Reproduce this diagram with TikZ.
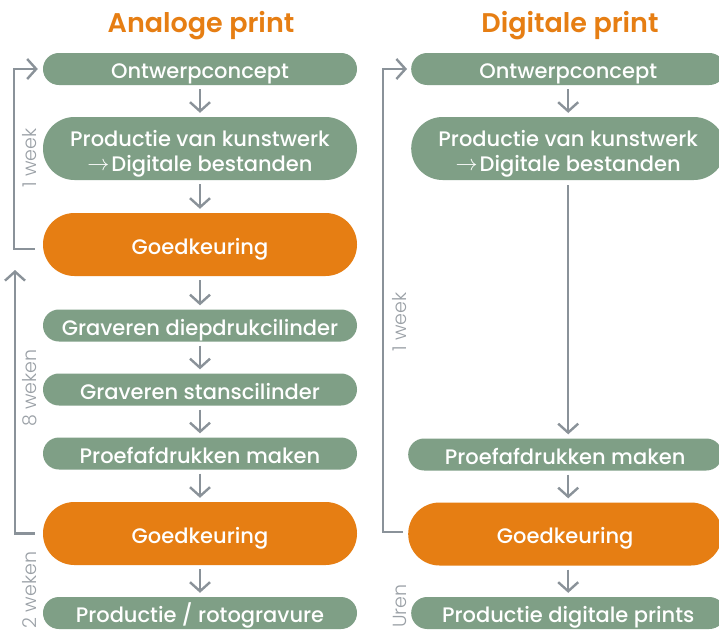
\documentclass[tikz,border=0pt]{standalone}
\usepackage{graphicx}
\usepackage{fontspec}
\setmainfont{Poppins}
\newfontfamily\medfont{Poppins Medium}
\newfontfamily\semifont{Poppins SemiBold}
\newfontfamily\lightfont{Poppins Light}
\usetikzlibrary{arrows.meta}
\definecolor{boxgreen}{HTML}{7F9F86}
\definecolor{boxorange}{HTML}{E67E13}
\definecolor{arrgray}{HTML}{8A9299}
\definecolor{labgray}{HTML}{9AA0A6}
\newcommand{\txtarrow}{\raisebox{1pt}[6pt][0pt]{\resizebox{22pt}{!}{$\rightarrow$}}\hspace{2pt}}
\newcommand{\onel}[1]{\raisebox{-9.8pt}[0pt][0pt]{#1}}
\newcommand{\twol}[2]{\raisebox{2.5pt}[0pt][0pt]{\begin{tabular}[t]{@{}c@{}}#1\\#2\end{tabular}}}
\begin{document}
\begin{tikzpicture}[x=1pt,y=-1pt,
  box/.style={fill=boxgreen, text=white, font=\medfont\fontsize{21}{25}\selectfont,
    rounded corners=15.9pt, minimum height=32pt, minimum width=314pt, inner sep=0pt},
  tallbox/.style={box, minimum height=63pt, rounded corners=31.4pt},
  okbox/.style={tallbox, fill=boxorange},
  flow/.style={draw=arrgray, line width=2.4pt,
    -{Straight Barb[length=9pt,width=20pt,line width=2.4pt]}},
  titletext/.style={text=boxorange, font=\semifont\fontsize{27}{30}\selectfont, anchor=base},
  dur/.style={text=labgray, font=\lightfont\fontsize{19}{20}\selectfont, rotate=90, inner sep=0pt},
]
\useasboundingbox[fill=white] (0,0) rectangle (719,632);

% titles
\node[titletext] (t1) at (201,32) {Analoge print};
\node[titletext] (t2) at (570,32) {Digitale print};

% left column
\node[box] (a1) at (200,69) {\onel{Ontwerpconcept}};
\node[tallbox] (a2) at (200,148.5) {\twol{Productie van kunstwerk}{\txtarrow Digitale bestanden}};
\node[okbox] (a3) at (200,244.5) {\onel{Goedkeuring}};
\node[box] (a4) at (200,325.5) {\onel{Graveren diepdrukcilinder}};
\node[box] (a5) at (200,389.5) {\onel{Graveren stanscilinder}};
\node[box] (a6) at (200,453.5) {\onel{Proefafdrukken maken}};
\node[okbox] (a7) at (200,533.5) {\onel{Goedkeuring}};
\node[box] (a8) at (200,613) {\onel{Productie / rotogravure}};

\foreach \p/\q in {a1/a2,a2/a3,a3/a4,a4/a5,a5/a6,a6/a7,a7/a8}
  \draw[flow] ([yshift=-4pt]\p.south) -- ([yshift=4pt]\q.north);

% right column
\node[box, anchor=west] (b1) at (411,69) {\onel{Ontwerpconcept}};
\node[tallbox, anchor=west] (b2) at (411,148.5) {\twol{Productie van kunstwerk}{\txtarrow Digitale bestanden}};
\node[box, anchor=west] (b3) at (408,454.5) {\onel{Proefafdrukken maken}};
\node[okbox, anchor=west] (b4) at (408,534) {\onel{Goedkeuring}};
\node[box, anchor=west] (b5) at (411,613) {\onel{Productie digitale prints}};

\draw[flow] ([yshift=-4pt]b1.south) -- ([yshift=4pt]b2.north);
\draw[flow] ([yshift=-5pt]b2.south) -- ([yshift=4pt]b2.south |- b3.north);
\draw[flow] ([yshift=-4pt]b2.south |- b3.south) -- ([yshift=4pt]b2.south |- b4.north);
\draw[flow] ([yshift=-4pt]b2.south |- b4.south) -- ([yshift=4pt]b5.north);

% loops
\coordinate (c1) at (14,69);
\coordinate (c2) at (15,270);
\coordinate (c3) at (383,69);
\draw[flow] ([xshift=-8pt,yshift=-4.5pt]a3.west) -| (c1) -- ([xshift=-5pt]a1.west);
\draw[flow] ([xshift=-8pt]a7.west) -| (c2);
\draw[flow] ([xshift=-5pt,yshift=2pt]b4.west) -| (c3) -- ([xshift=-4pt]b1.west);

% durations
\node[dur] (d1) at (30,158) {1 week};
\node[dur] (d2) at (30,388) {8 weken};
\node[dur] (d3) at (30,590) {2 weken};
\node[dur] (d4) at (400,322) {1 week};
\node[dur] (d5) at (400,606) {Uren};
\end{tikzpicture}
\end{document}
